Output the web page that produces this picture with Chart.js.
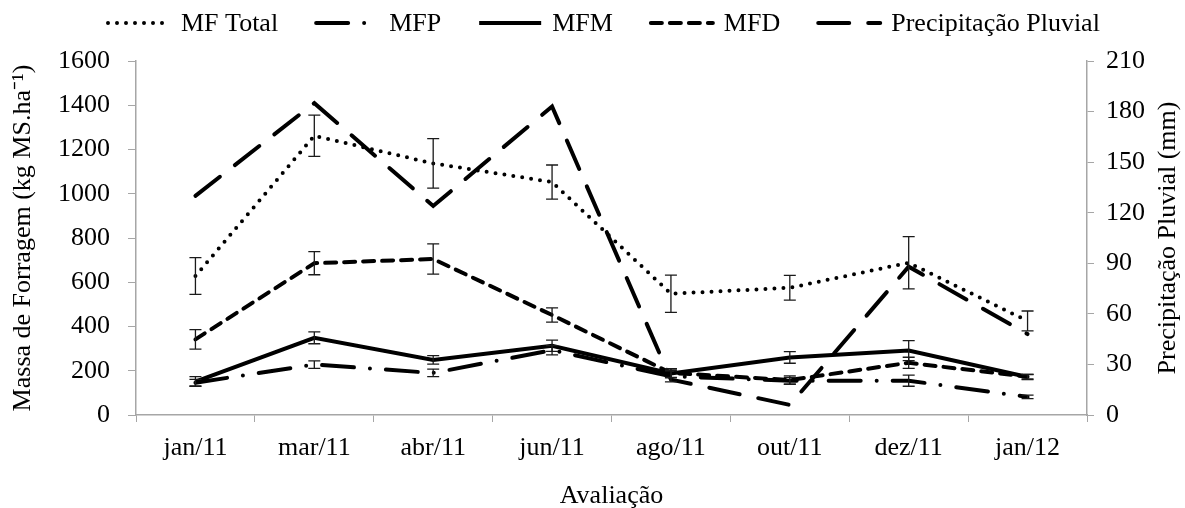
<!DOCTYPE html>
<html>
<head>
<meta charset="utf-8">
<script src="https://cdn.jsdelivr.net/npm/chart.js@4/dist/chart.umd.min.js"></script>
<style>
html,body{margin:0;padding:0;background:#fff;}
#wrap{width:1185px;height:508px;}
</style>
</head>
<body>
<div id="wrap"><canvas id="c" width="1185" height="508"></canvas></div>
<script>
// ---- data ----
const categories = ['jan/11','mar/11','abr/11','jun/11','ago/11','out/11','dez/11','jan/12'];
const mfTotal    = [628, 1262, 1137, 1053, 548, 575, 688, 425];
const mfTotalErr = [83, 93, 112, 77, 84, 56, 118, 45];
const mfp        = [146, 228, 190, 293, 175, 155, 155, 82];
const mfpErr     = [15, 17, 17, 21, 25, 15, 25, 8];
const mfm        = [151, 349, 249, 313, 188, 260, 291, 172];
const mfmErr     = [22, 27, 19, 25, 20, 26, 45, 12];
const mfd        = [342, 686, 705, 452, 190, 158, 236, 173];
const mfdErr     = [44, 52, 68, 32, 20, 19, 25, 10];
const precip     = [130, 185, 124, 183, 21, 6, 88, 48];
const leftTicks  = [0, 200, 400, 600, 800, 1000, 1200, 1400, 1600];
const rightTicks = [0, 30, 60, 90, 120, 150, 180, 210];
const seriesNames = ['MF Total', 'MFP', 'MFM', 'MFD', 'Precipitação Pluvial'];
const rightTitle = 'Precipitação Pluvial (mm)';

const FONT = "'Liberation Serif', 'Times New Roman', serif";
const FS = 26;
Chart.defaults.font.family = FONT;
Chart.defaults.font.size = FS;
Chart.defaults.color = '#000';
const AXIS = '#a6a6a6';

const errorBars = {
  id: 'errorBars',
  afterDatasetsDraw(chart) {
    const ctx = chart.ctx;
    ctx.save();
    ctx.strokeStyle = '#1a1a1a';
    ctx.lineWidth = 1.3;
    ctx.setLineDash([]);
    chart.data.datasets.forEach((ds, i) => {
      if (!ds.errors) return;
      const meta = chart.getDatasetMeta(i);
      const ys = chart.scales[ds.yAxisID];
      meta.data.forEach((pt, j) => {
        const v = ds.data[j], e = ds.errors[j];
        const x = pt.x;
        const yT = ys.getPixelForValue(v + e);
        const yB = ys.getPixelForValue(v - e);
        ctx.beginPath();
        ctx.moveTo(x, yT); ctx.lineTo(x, yB);
        ctx.moveTo(x - 6, yT); ctx.lineTo(x + 6, yT);
        ctx.moveTo(x - 6, yB); ctx.lineTo(x + 6, yB);
        ctx.stroke();
      });
    });
    ctx.restore();
  }
};

const customLegend = {
  id: 'customLegend',
  afterDraw(chart) {
    const ctx = chart.ctx;
    ctx.save();
    ctx.font = FS + 'px ' + FONT;
    ctx.textBaseline = 'middle';
    ctx.textAlign = 'left';
    const y = 23, sampleW = 62, textGap = 11, itemGap = 38;
    let x = 108;
    chart.data.datasets.forEach(ds => {
      ctx.beginPath();
      ctx.setLineDash(ds.borderDash || []);
      ctx.lineCap = ds.borderCapStyle || 'butt';
      ctx.lineWidth = ds.borderWidth;
      ctx.strokeStyle = ds.borderColor;
      ctx.moveTo(x, y); ctx.lineTo(x + sampleW, y);
      ctx.stroke();
      ctx.setLineDash([]);
      x += sampleW + textGap;
      ctx.fillStyle = '#000';
      ctx.fillText(ds.label, x, y + 1);
      x += ctx.measureText(ds.label).width + itemGap;
    });
    // right axis title, reading bottom-to-top
    const ca = chart.chartArea;
    ctx.translate(1168, (ca.top + ca.bottom) / 2);
    ctx.rotate(-Math.PI / 2);
    ctx.textAlign = 'center';
    ctx.fillText(rightTitle, 0, 0);
    ctx.restore();
  }
};

const base = {pointRadius: 0, borderColor: '#000', backgroundColor: '#000', borderWidth: 4, tension: 0, fill: false};

new Chart(document.getElementById('c'), {
  type: 'line',
  data: {
    labels: categories,
    datasets: [
      Object.assign({}, base, {label: seriesNames[0], data: mfTotal, errors: mfTotalErr, yAxisID: 'y', borderDash: [0, 9], borderCapStyle: 'round'}),
      Object.assign({}, base, {label: seriesNames[1], data: mfp, errors: mfpErr, yAxisID: 'y', borderDash: [32, 16, 0, 16], borderCapStyle: 'round'}),
      Object.assign({}, base, {label: seriesNames[2], data: mfm, errors: mfmErr, yAxisID: 'y'}),
      Object.assign({}, base, {label: seriesNames[3], data: mfd, errors: mfdErr, yAxisID: 'y', borderDash: [11, 8], borderCapStyle: 'round'}),
      Object.assign({}, base, {label: seriesNames[4], data: precip, yAxisID: 'y1', borderDash: [31, 19], borderCapStyle: 'round'})
    ]
  },
  options: {
    responsive: false,
    animation: false,
    layout: {padding: {top: 61, left: 0, right: 0, bottom: 0}},
    plugins: {legend: {display: false}, tooltip: {enabled: false}},
    scales: {
      x: {
        type: 'category', offset: true,
        grid: {drawOnChartArea: false, color: AXIS, tickLength: 7, offset: true},
        border: {color: AXIS, width: 1.5},
        ticks: {color: '#000', font: {size: FS}, padding: 11, maxRotation: 0, autoSkip: false},
        title: {display: true, text: 'Avaliação', color: '#000', font: {size: FS, lineHeight: 1}, padding: {top: 0, bottom: -1}},
        afterFit(s) { s.height = 93; }
      },
      y: {
        position: 'left',
        min: leftTicks[0], max: leftTicks[leftTicks.length - 1],
        afterBuildTicks(s) { s.ticks = leftTicks.map(v => ({value: v})); },
        grid: {drawOnChartArea: false, color: AXIS, tickLength: 8},
        border: {color: AXIS, width: 1.5},
        ticks: {color: '#000', font: {size: FS}, padding: 18, callback: v => String(v)},
        title: {display: true, text: 'Massa de Forragem (kg MS.ha⁻¹)', color: '#000', font: {size: FS}, padding: {top: 8, bottom: 0}},
        afterFit(s) { s.width = 136; }
      },
      y1: {
        position: 'right',
        min: rightTicks[0], max: rightTicks[rightTicks.length - 1],
        afterBuildTicks(s) { s.ticks = rightTicks.map(v => ({value: v})); },
        grid: {drawOnChartArea: false, color: AXIS, tickLength: 7},
        border: {color: AXIS, width: 1.5},
        ticks: {color: '#000', font: {size: FS}, padding: 12, callback: v => String(v)},
        title: {display: false},
        afterFit(s) { s.width = 98; }
      }
    }
  },
  plugins: [errorBars, customLegend]
});
</script>
</body>
</html>
